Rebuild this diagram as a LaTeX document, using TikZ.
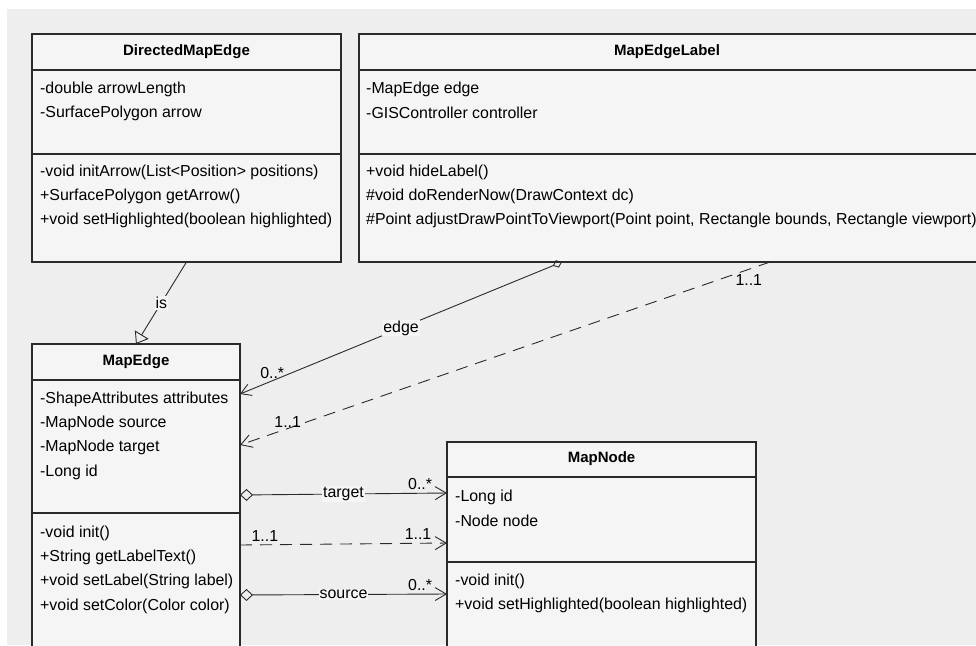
\documentclass[tikz,border=0pt]{standalone}
\usepackage{fontspec}
\setmainfont{Liberation Sans}
\usetikzlibrary{arrows.meta}

\definecolor{sheetgray}{HTML}{EEEEEE}
\definecolor{boxfill}{HTML}{F5F5F5}
\definecolor{umlline}{HTML}{2A2A2A}

\tikzset{
  classbox/.style={draw=umlline, fill=boxfill, line width=1.3pt, inner sep=0pt, outer sep=0pt},
  classname/.style={font=\bfseries\fontsize{15}{18}\selectfont, inner sep=0pt},
  member/.style={anchor=west, inner sep=0pt, font=\fontsize{15.9}{18}\selectfont},
  divider/.style={draw=umlline, line width=1.3pt},
  link/.style={draw=umlline, line width=0.9pt},
  dep/.style={link, dash pattern=on 12pt off 8pt},
  linelabel/.style={fill=boxfill, inner sep=1pt, font=\fontsize{15.9}{18}\selectfont},
  mult/.style={inner sep=1pt, font=\fontsize{15.9}{18}\selectfont},
  openhead/.style={-{Straight Barb[length=11pt,width=13pt]}},
  genhead/.style={-{Triangle[open,length=11pt,width=16pt]}},
  aggr/.style={{Diamond[open,length=13pt,width=12pt]}-{Straight Barb[length=11pt,width=13pt]}}
}

\begin{document}
\begin{tikzpicture}[x=1pt,y=-1pt]
  \useasboundingbox (0,0) rectangle (976,645);
  \clip (0,0) rectangle (976,645);
  \fill[white] (0,0) rectangle (976,645);
  \fill[sheetgray] (7,9) rectangle (976,645);

  % DirectedMapEdge
  \node[classbox, minimum width=309pt, minimum height=228pt] (dme) at (186.5,148) {};
  \node[classname] (dmeName) at (186.5,52) {DirectedMapEdge};
  \draw[divider] (32,70) -- (341,70);
  \draw[divider] (32,154) -- (341,154);
  \foreach \m [count=\i] in {-double arrowLength, -SurfacePolygon arrow}
    \node[member] (dmeAttr\i) at (40,{89+24.3*(\i-1)}) {\m};
  \foreach \m [count=\i] in {{-void initArrow(List<Position> positions)}, +SurfacePolygon getArrow(),
      {+void setHighlighted(boolean highlighted)}}
    \node[member] (dmeOp\i) at (40,{172+24.3*(\i-1)}) {\m};

  % MapEdgeLabel
  \node[classbox, minimum width=621pt, minimum height=228pt] (mel) at (669.5,148) {};
  \node[classname] (melName) at (667,52) {MapEdgeLabel};
  \draw[divider] (359,70) -- (980,70);
  \draw[divider] (359,154) -- (980,154);
  \foreach \m [count=\i] in {-MapEdge edge, -GISController controller}
    \node[member] (melAttr\i) at (366,{89+24.3*(\i-1)}) {\m};
  \foreach \m [count=\i] in {+void hideLabel(), \#void doRenderNow(DrawContext dc),
      {\#Point adjustDrawPointToViewport(Point point, Rectangle bounds, Rectangle viewport)}}
    \node[member] (melOp\i) at (366,{172+24.3*(\i-1)}) {\m};

  % MapEdge
  \node[classbox, minimum width=208pt, minimum height=316pt] (me) at (136,502) {};
  \node[classname] (meName) at (136,362) {MapEdge};
  \draw[divider] (32,380) -- (240,380);
  \draw[divider] (32,513) -- (240,513);
  \foreach \m [count=\i] in {-ShapeAttributes attributes, -MapNode source, -MapNode target, -Long id}
    \node[member] (meAttr\i) at (40,{399+24.3*(\i-1)}) {\m};
  \foreach \m [count=\i] in {-void init(), +String getLabelText(), {+void setLabel(String label)},
      {+void setColor(Color color)}}
    \node[member] (meOp\i) at (40,{533+24.3*(\i-1)}) {\m};

  % MapNode
  \node[classbox, minimum width=309pt, minimum height=218pt] (mn) at (601.5,551) {};
  \node[classname] (mnName) at (601.5,459) {MapNode};
  \draw[divider] (447,477) -- (756,477);
  \draw[divider] (447,562) -- (756,562);
  \foreach \m [count=\i] in {-Long id, -Node node}
    \node[member] (mnAttr\i) at (455,{497+24.3*(\i-1)}) {\m};
  \foreach \m [count=\i] in {-void init(), {+void setHighlighted(boolean highlighted)}}
    \node[member] (mnOp\i) at (455,{581+24.3*(\i-1)}) {\m};

  % relations
  \draw[link, genhead] (dme.south) -- node[linelabel] (isLbl) {is} (me.north);
  \draw[link, {Diamond[open,length=10pt,width=8pt]}-{Straight Barb[length=10pt,width=12pt]}]
    ([xshift=203pt]mel.south west) -- node[linelabel] (edgeLbl) {edge}
      node[mult, pos=0.9, above=1pt] (edgeMult) {0..*} ([yshift=-50pt]me.north east);
  \draw[dep, openhead] ([xshift=411pt]mel.south west)
    -- node[mult, pos=0.04, below=4pt] (depTop) {1..1}
       node[mult, pos=0.91, above=0pt] (depBottom) {1..1} ([yshift=-101pt]me.north east);
  \draw[link, aggr] ([yshift=-151pt]me.north east) -- node[linelabel] (targetLbl) {target}
      node[mult, pos=0.87, above=2pt] (targetMult) {0..*} ([yshift=-51pt]mn.north west);
  \draw[dep, openhead] ([yshift=-201pt]me.north east)
    -- node[mult, pos=0.12, above=2pt] (nodeFrom) {1..1}
       node[mult, pos=0.86, above=2pt] (nodeTo) {1..1} ([yshift=-101pt]mn.north west);
  \draw[link, aggr] ([yshift=-251pt]me.north east) -- node[linelabel] (sourceLbl) {source}
      node[mult, pos=0.87, above=2pt] (sourceMult) {0..*} ([yshift=-152pt]mn.north west);
\end{tikzpicture}
\end{document}
